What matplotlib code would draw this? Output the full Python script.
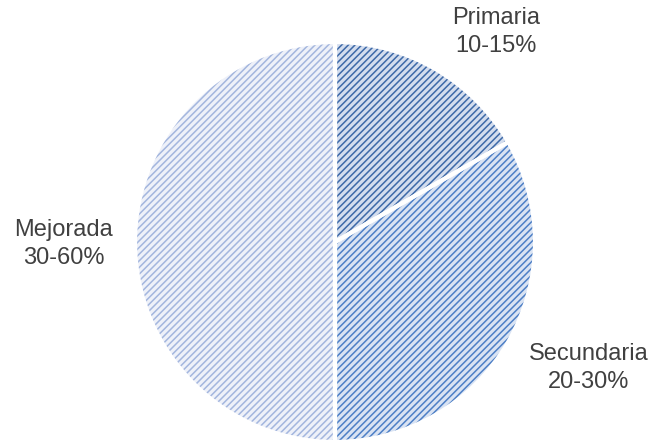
import matplotlib
matplotlib.use("Agg")
import matplotlib.pyplot as plt

categories = ["Primaria", "Secundaria", "Mejorada"]
ranges = ["10-15%", "20-30%", "30-60%"]
values = [15, 30, 45]

face_colors = ["#d3ddee", "#d9e3f3", "#eef1f9"]
hatch_colors = ["#3d69a8", "#4d7fc6", "#a3b6de"]
label_pos = [(496, 412), (589, 76), (64, 200)]

plt.rcParams['hatch.linewidth'] = 1.1
fig = plt.figure(figsize=(6.5, 4.44), dpi=100)
ax = fig.add_axes([0, 0, 1, 1])
ax.set_xlim(0, 650)
ax.set_ylim(0, 444)
ax.set_aspect('equal')
ax.axis('off')

center = (335, 202)
radius = 200

wedges, _ = ax.pie(values, startangle=90, counterclock=False, center=center,
                   radius=radius, colors=face_colors,
                   wedgeprops=dict(linewidth=0))
wedges2, _ = ax.pie(values, startangle=90, counterclock=False, center=center,
                    radius=radius, colors=face_colors,
                    wedgeprops=dict(linewidth=0, fill=False))
for w, hc in zip(wedges2, hatch_colors):
    w.set_hatch('/////')
    w.set_edgecolor(hc)
    w.set_linewidth(0)
ax.pie(values, startangle=90, counterclock=False, center=center,
       radius=radius, wedgeprops=dict(linewidth=3, edgecolor='white', fill=False))

for cat, rg, (x, y) in zip(categories, ranges, label_pos):
    ax.text(x, y, f"{cat}\n{rg}", ha='center', va='center', fontsize=17,
            color='#404040', family=['Liberation Sans', 'DejaVu Sans'],
            linespacing=1.3)

ax.set_xlim(0, 650)
ax.set_ylim(0, 444)
fig.savefig("out.png", dpi=100)
